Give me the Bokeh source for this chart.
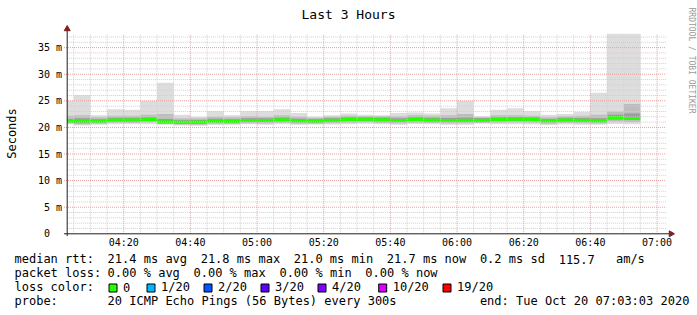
import math
from bokeh.plotting import figure
from bokeh.models import Range1d, ColumnDataSource
from bokeh.core.properties import value
from bokeh.embed import file_html
from bokeh.resources import INLINE

# ---------------- data (5-minute slots) ----------------
slot_start = ["04:00", "04:05", "04:10", "04:15", "04:20", "04:25", "04:30", "04:35",
              "04:40", "04:45", "04:50", "04:55", "05:00", "05:05", "05:10", "05:15",
              "05:20", "05:25", "05:30", "05:35", "05:40", "05:45", "05:50", "05:55",
              "06:00", "06:05", "06:10", "06:15", "06:20", "06:25", "06:30", "06:35",
              "06:40", "06:45", "06:50"]
median_ms = [21.2, 21.2, 21.2, 21.4, 21.4, 21.5, 21.05, 20.95, 21.0, 21.2, 21.15, 21.3,
             21.3, 21.45, 21.25, 21.2, 21.35, 21.5, 21.55, 21.45, 21.3, 21.5, 21.4, 21.3,
             21.35, 21.35, 21.5, 21.55, 21.5, 21.25, 21.4, 21.35, 21.25, 21.8, 21.7]
max_ms = [25.0, 26.1, 22.3, 23.4, 23.3, 25.0, 28.4, 22.4, 22.0, 23.1, 22.3, 23.1,
          23.1, 23.4, 22.7, 22.0, 22.3, 22.6, 22.4, 22.3, 22.7, 22.8, 22.6, 23.6,
          25.0, 22.1, 23.3, 23.6, 23.1, 22.4, 22.5, 22.9, 26.5, 37.6, 37.6]
p90_ms = [22.2, 22.3, 21.9, 22.2, 22.2, 22.4, 22.5, 21.7, 21.7, 22.0, 21.9, 22.1,
          22.0, 22.3, 22.0, 21.8, 22.0, 22.2, 22.1, 22.1, 22.1, 22.3, 22.2, 22.3,
          22.5, 21.9, 22.3, 22.3, 22.2, 21.9, 22.1, 22.2, 22.4, 23.0, 24.4]
p75_ms = [21.6, 21.7, 21.55, 21.8, 21.8, 21.9, 21.6, 21.35, 21.4, 21.65, 21.55, 21.7,
          21.7, 21.85, 21.65, 21.55, 21.7, 21.9, 21.9, 21.85, 21.7, 21.9, 21.8, 21.75,
          21.85, 21.7, 21.9, 21.95, 21.9, 21.6, 21.8, 21.75, 21.7, 22.4, 22.6]
p25_ms = [20.9, 20.8, 20.9, 21.1, 21.1, 21.2, 20.8, 20.7, 20.7, 20.9, 20.85, 21.0,
          21.0, 21.15, 20.95, 20.9, 21.05, 21.2, 21.25, 21.15, 21.0, 21.2, 21.1, 21.0,
          21.05, 21.05, 21.2, 21.25, 21.2, 20.95, 21.1, 21.05, 20.95, 21.5, 21.4]
p10_ms = [20.75, 20.6, 20.7, 20.9, 20.85, 20.95, 20.65, 20.55, 20.5, 20.7, 20.65, 20.8,
          20.75, 20.9, 20.7, 20.7, 20.8, 20.9, 20.95, 20.85, 20.75, 20.9, 20.85, 20.75,
          20.8, 20.85, 20.9, 20.95, 20.9, 20.7, 20.85, 20.8, 20.75, 21.1, 21.0]
min_ms = [20.6, 20.35, 20.5, 20.6, 20.6, 20.6, 20.5, 20.35, 20.3, 20.45, 20.5, 20.6,
          20.5, 20.6, 20.5, 20.55, 20.55, 20.6, 20.7, 20.6, 20.5, 20.65, 20.6, 20.5,
          20.5, 20.7, 20.6, 20.6, 20.55, 20.45, 20.55, 20.5, 20.5, 20.65, 20.6]

x_tick_labels = ["04:20", "04:40", "05:00", "05:20", "05:40", "06:00", "06:20", "06:40", "07:00"]
y_tick_values = [0, 5, 10, 15, 20, 25, 30, 35]
y_tick_labels = ["0\u00a0\u00a0", "5 m", "10 m", "15 m", "20 m", "25 m", "30 m", "35 m"]

title_text = "Last 3 Hours"
y_label = "Seconds"
watermark = "RRDTOOL / TOBI OETIKER"

stats_line1 = [("median rtt:", 0), ("21.4 ms avg", 13), ("21.8 ms max", 26), ("21.0 ms min", 39),
               ("21.7 ms now", 52), ("0.2 ms sd", 65), ("115.7", 76), ("am/s", 84)]
stats_line2 = [("packet loss:", 0), ("0.00 % avg", 13), ("0.00 % max", 25),
               ("0.00 % min", 37), ("0.00 % now", 49)]
loss_names = ["0", "1/20", "2/20", "3/20", "4/20", "10/20", "19/20"]
loss_colors = ["#26ff00", "#00b8ff", "#0059ff", "#5e00ff", "#7e00ff", "#dd00ff", "#ff0000"]
probe_line = [("probe:", 0), ("20 ICMP Echo Pings (56 Bytes) every 300s", 13),
              ("end: Tue Oct 20 07:03:03 2020", 65)]

# ---------------- geometry ----------------
W, H = 697, 315
X0, X1 = 3.05, 183.05           # 04:03:03 .. 07:03:03 in minutes after 04:00
Y1 = 37.6
FL, FW, FT, FH = 66.7, 600.0, 33.3, 200.0
MONO = "DejaVu Sans Mono"


def to_min(s):
    h, m = s.split(":")
    return int(h) * 60 + int(m) - 240


def dx(px):
    return X0 + (px - FL) * (X1 - X0) / FW


def dy(py):
    return (FT + FH - py) * Y1 / FH


p = figure(width=W, height=H, x_range=Range1d(dx(0), dx(W)), y_range=Range1d(dy(H), dy(0)),
           output_backend="svg", toolbar_location=None, min_border=0,
           x_axis_location=None, y_axis_location=None, outline_line_color=None,
           background_fill_color="white", border_fill_color="white")
p.xgrid.visible = False
p.ygrid.visible = False

# ---------------- smoke and median ----------------
left = [max(to_min(s), X0) for s in slot_start]
right = [to_min(s) + 5 for s in slot_start]
src = ColumnDataSource(dict(left=left, right=right, mn=min_ms, mx=max_ms, p10=p10_ms,
                            p90=p90_ms, p25=p25_ms, p75=p75_ms,
                            mlo=[m - 0.28 for m in median_ms], mhi=[m + 0.28 for m in median_ms]))
p.quad(left="left", right="right", bottom="mn", top="mx", source=src, fill_color="#dddddd", line_color=None)
p.quad(left="left", right="right", bottom="p10", top="p90", source=src, fill_color="#bdbdbd", line_color=None)
p.quad(left="left", right="right", bottom="p25", top="p75", source=src, fill_color="#9c9c9c", line_color=None)
p.quad(left="left", right="right", bottom="mlo", top="mhi", source=src, fill_color="#26ff00", line_color=None)

# ---------------- grid (drawn on top, like rrdtool) ----------------
xt = [to_min(s) for s in x_tick_labels]
x_minor = [m for m in range(5, int(X1) + 1, 5) if m not in xt]
y_minor = [v for v in range(1, int(Y1) + 1) if v not in y_tick_values]
y_major = [v for v in y_tick_values if v > 0]

p.segment(x0=x_minor, x1=x_minor, y0=[0] * len(x_minor), y1=[Y1] * len(x_minor),
          line_color="#cfcfcf", line_width=1, line_dash="1 1")
p.segment(x0=[X0] * len(y_minor), x1=[X1 - 0.3] * len(y_minor), y0=y_minor, y1=y_minor,
          line_color="#cfcfcf", line_width=1, line_dash="1 1")
p.segment(x0=xt, x1=xt, y0=[0] * len(xt), y1=[Y1] * len(xt),
          line_color="#e6a0a0", line_width=1, line_dash="1 1")
p.segment(x0=[dx(63.5)] * len(y_major), x1=[X1 - 0.3] * len(y_major), y0=y_major, y1=y_major,
          line_color="#e6a0a0", line_width=1, line_dash="1 1")

# ---------------- axes with arrows ----------------
p.segment(x0=[X0, dx(63.5)], x1=[X0, dx(669)], y0=[dy(235.5), 0], y1=[dy(29), 0],
          line_color="#1f1f1f", line_width=1)
p.scatter(x=[X0], y=[dy(28.5)], marker="triangle", size=6, fill_color="#801f1f", line_color="#801f1f")
p.scatter(x=[dx(670.5)], y=[0], marker="triangle", size=6, angle=-math.pi / 2,
          fill_color="#801f1f", line_color="#801f1f")

# tick labels
p.text(x=[dx(61.5)] * len(y_tick_values), y=y_tick_values, text=y_tick_labels,
       text_font=value(MONO), text_font_size=value("10px"), text_align="right",
       text_baseline="middle", text_color="black")
p.text(x=xt, y=[dy(242.3)] * len(xt), text=x_tick_labels,
       text_font=value(MONO), text_font_size=value("10px"), text_align="center",
       text_baseline="alphabetic", text_color="black")

# title, axis label, watermark
p.text(x=[dx(348)], y=[dy(14)], text=[title_text], text_font=value(MONO),
       text_font_size=value("13px"), text_align="center", text_baseline="alphabetic", text_color="black")
p.text(x=[dx(11.5)], y=[dy(133)], text=[y_label], text_font=value(MONO),
       text_font_size=value("12px"), text_align="center", text_baseline="middle",
       angle=math.pi / 2, text_color="black")
p.text(x=[dx(690.5)], y=[dy(60)], text=[watermark], text_font=value(MONO),
       text_font_size=value("8px"), text_align="center", text_baseline="middle",
       angle=-math.pi / 2, text_color="#9a9a9a")

# ---------------- legend block ----------------
CW, C0 = 7.16, 14.0
base = [258.9, 272.9, 286.9, 300.9]
tx, ty, tt = [], [], []
for row, items in ((0, stats_line1), (1, stats_line2), (2, [("loss color:", 0)]), (3, probe_line)):
    for s, col in items:
        tx.append(dx(C0 + col * CW))
        ty.append(dy(base[row]))
        tt.append(s)
box_left = [108, 146, 203, 260, 317, 377.7, 442]
for bl, name in zip(box_left, loss_names):
    tx.append(dx(bl + 14.5))
    ty.append(dy(base[2]))
    tt.append(name)
p.text(x=tx, y=ty, text=tt, text_font=value(MONO), text_font_size=value("12px"),
       text_baseline="alphabetic", text_align="left", text_color="black")
p.quad(left=[dx(b + 0.5) for b in box_left], right=[dx(b + 8.5) for b in box_left],
       top=[dy(283.5)] * 7, bottom=[dy(291.5)] * 7, fill_color=loss_colors,
       line_color="black", line_width=1)

open("out.html", "w").write(file_html(p, INLINE))
